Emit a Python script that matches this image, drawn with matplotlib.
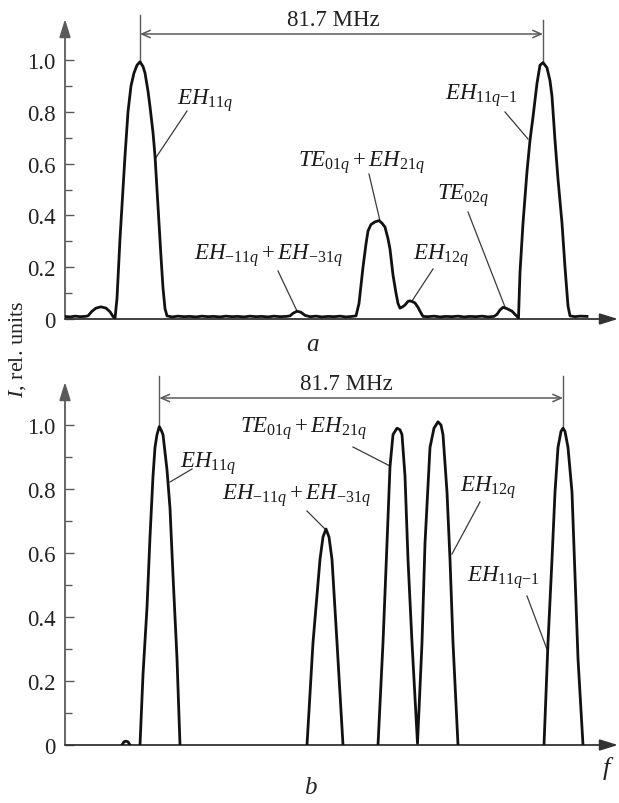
import numpy as np
import matplotlib
matplotlib.use("Agg")
import matplotlib.pyplot as plt

plt.rcParams['font.family'] = ['Liberation Serif', 'DejaVu Serif']
plt.rcParams['mathtext.fontset'] = 'custom'
plt.rcParams['mathtext.rm'] = 'Liberation Serif'
plt.rcParams['mathtext.it'] = 'Liberation Serif:italic'
plt.rcParams['mathtext.bf'] = 'Liberation Serif:bold'

# ---------------- data (frequency in arbitrary units, intensity in rel. units)
top_f = [65, 70, 75, 80, 85, 88, 92, 96, 101, 106, 110, 113, 115, 117, 120, 125, 128, 131, 134,
         137, 140, 143, 145, 148, 150, 153, 155, 157, 159, 161, 163, 165, 167, 172, 178, 184,
         190, 196, 202, 208, 214, 220, 226, 232, 238, 244, 250, 256, 262, 268, 274, 280, 286,
         290, 293, 297, 301, 305, 310, 316, 322, 328, 334, 340, 346, 352, 356, 359, 363, 366,
         368, 371, 375, 379, 382, 385, 388, 390, 393, 396, 398, 400, 403, 405, 408, 410, 413,
         415, 418, 420, 423, 428, 434, 440, 446, 452, 458, 464, 470, 476, 482, 488, 494, 497,
         500, 503, 507, 512, 515, 517, 518.5, 520, 523, 527, 530, 533, 537, 540, 543, 547, 550,
         552, 555, 558, 562, 565, 568, 570, 575, 580, 587]
top_I = [0.010, 0.008, 0.011, 0.009, 0.010, 0.012, 0.030, 0.042, 0.047, 0.042, 0.028, 0.010,
         0.002, 0.08, 0.31, 0.63, 0.80, 0.90, 0.95, 0.98, 0.993, 0.975, 0.95, 0.88, 0.82, 0.72,
         0.63, 0.50, 0.37, 0.24, 0.12, 0.04, 0.012, 0.008, 0.011, 0.009, 0.010, 0.008, 0.011,
         0.009, 0.010, 0.008, 0.011, 0.009, 0.010, 0.008, 0.011, 0.009, 0.010, 0.008, 0.011,
         0.009, 0.010, 0.012, 0.022, 0.030, 0.026, 0.014, 0.009, 0.011, 0.008, 0.010, 0.009,
         0.011, 0.008, 0.010, 0.012, 0.06, 0.20, 0.29, 0.34, 0.365, 0.375, 0.38, 0.37, 0.355,
         0.31, 0.27, 0.17, 0.10, 0.06, 0.042, 0.048, 0.054, 0.068, 0.070, 0.066, 0.062, 0.045,
         0.030, 0.010, 0.009, 0.011, 0.008, 0.010, 0.009, 0.011, 0.008, 0.010, 0.009, 0.011,
         0.008, 0.010, 0.018, 0.035, 0.045, 0.040, 0.030, 0.018, 0.010, 0.004, 0.18, 0.37, 0.57,
         0.69, 0.78, 0.91, 0.98, 0.99, 0.97, 0.92, 0.86, 0.69, 0.54, 0.37, 0.20, 0.05, 0.012,
         0.009, 0.011, 0.010]

nan = float('nan')
bot_f = [122, 124, 126, 128, 130, nan,
         140, 143, 147, 150, 153, 155, 157, 159.3, 161, 163, 167, 170, 173, 177, 180, nan,
         307, 313, 320, 323, 326, 329, 332, 337, 343, nan,
         378, 383, 387, 390, 393, 397, 400, 402, 405, 408, 412, 417.5,
         422, 425, 430, 434, 438, 441, 443, 447, 450, 453, 458, nan,
         544, 548, 552, 555, 558, 561, 563, 565, 568, 572, 575, 578, 583]
bot_I = [0.0, 0.010, 0.012, 0.010, 0.0, nan,
         0.0, 0.22, 0.43, 0.65, 0.84, 0.93, 0.97, 0.995, 0.985, 0.97, 0.86, 0.74, 0.53, 0.27, 0.0, nan,
         0.0, 0.32, 0.58, 0.65, 0.675, 0.65, 0.58, 0.32, 0.0, nan,
         0.0, 0.32, 0.63, 0.87, 0.97, 0.99, 0.985, 0.97, 0.84, 0.58, 0.32, 0.005,
         0.32, 0.63, 0.93, 0.99, 1.01, 1.0, 0.97, 0.79, 0.58, 0.32, 0.0, nan,
         0.0, 0.32, 0.58, 0.79, 0.93, 0.98, 0.99, 0.98, 0.93, 0.79, 0.53, 0.27, 0.0]

ytick_vals = [0, 0.2, 0.4, 0.6, 0.8, 1.0]
ytick_labels = ['0', '0.2', '0.4', '0.6', '0.8', '1.0']
yminor_vals = [0.1, 0.3, 0.5, 0.7, 0.9]
span_label = '81.7 MHz'

top_labels = [r'$EH_{11q}$', r'$EH_{-11q}+EH_{-31q}$', r'$TE_{01q}+EH_{21q}$',
              r'$TE_{02q}$', r'$EH_{12q}$', r'$EH_{11q{-}1}$']
bot_labels = [r'$EH_{11q}$', r'$TE_{01q}+EH_{21q}$', r'$EH_{-11q}+EH_{-31q}$',
              r'$EH_{12q}$', r'$EH_{11q{-}1}$']

# ---------------- layout helpers
W, H = 619, 804
fig = plt.figure(figsize=(W / 100, H / 100), dpi=100)

AX_COL = '#5a5a5a'
LINE_COL = '#111111'
LEAD_COL = '#3a3a3a'
LAB_FS = 16.5


def make_axes(y0_px, ytop_px, scale):
    ax = fig.add_axes([65 / W, 1 - y0_px / H, (618 - 65) / W, (y0_px - ytop_px) / H])
    ax.set_xlim(65, 618)
    ax.set_ylim(0, (y0_px - ytop_px) / scale)
    for s in ax.spines.values():
        s.set_visible(False)
    ax.set_xticks([])
    ax.set_yticks(ytick_vals)
    ax.set_yticklabels(ytick_labels)
    ax.set_yticks(yminor_vals, minor=True)
    ax.tick_params(axis='y', which='major', direction='in', length=6.5, width=1.0,
                   color=AX_COL, pad=7, labelsize=16.5, labelcolor='#222222')
    ax.tick_params(axis='y', which='minor', direction='in', length=5, width=1.0, color=AX_COL)
    arrow = dict(arrowstyle='-|>,head_length=0.55,head_width=0.17', color=AX_COL, lw=1.3,
                 shrinkA=0, shrinkB=0, mutation_scale=20)
    ax.annotate('', xy=(0, 1), xytext=(0, 0), xycoords='axes fraction', arrowprops=arrow,
                annotation_clip=False)
    arrow2 = dict(arrow)
    arrow2['color'] = '#333333'
    ax.annotate('', xy=(1.0, 0), xytext=(0, 0), xycoords='axes fraction', arrowprops=arrow2,
                annotation_clip=False)
    ax.patch.set_alpha(0)
    return ax


def px2y(py, y0_px, scale):
    return (y0_px - py) / scale


def bracket(ax, x1, x2, y_line, y_top, y_peak1, y_peak2, text_x, text_y):
    ax.plot([x1, x1], [y_peak1, y_top[0]], color=AX_COL, lw=1.0, clip_on=False)
    ax.plot([x2, x2], [y_peak2, y_top[1]], color=AX_COL, lw=1.0, clip_on=False)
    ax.annotate('', xy=(x1, y_line), xytext=(x2, y_line),
                arrowprops=dict(arrowstyle='<->,head_length=0.5,head_width=0.22', color=AX_COL,
                                lw=1.1, shrinkA=0, shrinkB=0, mutation_scale=12),
                annotation_clip=False)
    ax.text(text_x, text_y, span_label, ha='center', va='center', fontsize=16.5,
            color='#222222', clip_on=False)


# ---------------- top panel (a)
T0, TT, TS = 320, 20, 259.0
ax1 = make_axes(T0, TT, TS)
ax1.plot(top_f, top_I, color=LINE_COL, lw=2.0, solid_joinstyle='round', zorder=3)

tf = np.array(top_f)
ti = np.array(top_I)
p1 = tf[np.argmax(np.where(tf < 200, ti, 0))]
p2 = tf[np.argmax(np.where(tf > 500, ti, 0))]
bracket(ax1, p1, p2, px2y(35, T0, TS), (px2y(16, T0, TS), px2y(21, T0, TS)),
        ti[tf == p1][0], ti[tf == p2][0], 333, px2y(20, T0, TS))

top_spec = [  # (text left px, baseline px, leader start px, leader end px)
    (177, 105, (187, 112), (155, 160)),
    (194, 260, (278, 272), (297, 312)),
    (298, 167, (369, 175), (380, 222)),
    (437, 200, (468, 213), (505, 308)),
    (413, 260, (433, 270), (412, 302)),
    (445, 100, (505, 113), (528, 140)),
]
for lab, (tx, ty, a, b) in zip(top_labels, top_spec):
    ax1.text(tx, px2y(ty, T0, TS), lab, ha='left', va='baseline', fontsize=LAB_FS, color='#1a1a1a')
    ax1.plot([a[0], b[0]], [px2y(a[1], T0, TS), px2y(b[1], T0, TS)], color=LEAD_COL, lw=0.9)

# ---------------- bottom panel (b)
B0, BT, BS = 746, 383, 320.0
ax2 = make_axes(B0, BT, BS)
ax2.plot(bot_f, bot_I, color=LINE_COL, lw=2.0, solid_joinstyle='round', zorder=3)

bf = np.array(bot_f)
bi = np.nan_to_num(np.array(bot_I))
q1 = bf[np.argmax(np.where(bf < 200, bi, 0))]
q2 = bf[np.argmax(np.where(bf > 500, bi, 0))]
bracket(ax2, q1, q2, px2y(399, B0, BS), (px2y(377, B0, BS), px2y(377, B0, BS)),
        bi[bf == q1][0], bi[bf == q2][0], 346, px2y(385, B0, BS))

bot_spec = [
    (180, 468, (192, 470), (170, 483)),
    (240, 433, (353, 448), (390, 467)),
    (222, 500, (307, 512), (325, 530)),
    (460, 492, (480, 503), (452, 555)),
    (467, 582, (527, 597), (548, 653)),
]
for lab, (tx, ty, a, b) in zip(bot_labels, bot_spec):
    ax2.text(tx, px2y(ty, B0, BS), lab, ha='left', va='baseline', fontsize=LAB_FS, color='#1a1a1a')
    ax2.plot([a[0], b[0]], [px2y(a[1], B0, BS), px2y(b[1], B0, BS)], color=LEAD_COL, lw=0.9)

# ---------------- figure texts
fig.text(18 / W, 1 - 349 / H, r'$I$, rel. units', rotation=90, ha='center', va='center',
         fontsize=16, color='#222222')
fig.text(312 / W, 1 - 345 / H, 'a', style='italic', ha='center', va='center', fontsize=18,
         color='#222222')
fig.text(310 / W, 1 - 788 / H, 'b', style='italic', ha='center', va='center', fontsize=18,
         color='#222222')
fig.text(606 / W, 1 - 769 / H, 'f', style='italic', ha='center', va='center', fontsize=19,
         color='#222222')

fig.savefig('out.png', dpi=100)
